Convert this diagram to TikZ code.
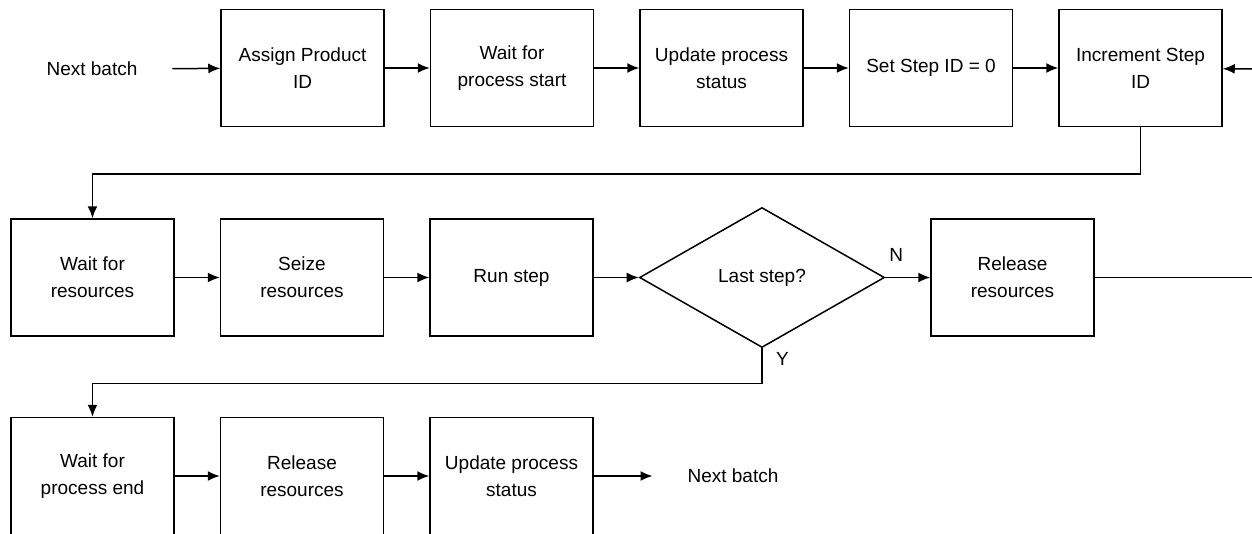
\documentclass[tikz,border=0pt]{standalone}
\usepackage{fontspec}
\setmainfont{Liberation Sans}
\usetikzlibrary{shapes.geometric,arrows.meta}
\tikzset{every node/.style={align=center}, >={Latex[length=12pt,width=10pt]}, font=\fontsize{19}{27}\selectfont}

\begin{document}
\begin{tikzpicture}[x=1pt, y=-1pt, node distance=209.5pt, line width=1.5pt,
    box/.style={rectangle, draw, minimum width=163pt, minimum height=117pt, inner sep=0pt},
    test/.style={diamond, draw, aspect=1.75, minimum width=245pt, minimum height=140pt, inner sep=0pt}]
             \useasboundingbox (0,0) rectangle (1252,533);

             % batch set-up
             \node (nextin) at (92,69) {Next batch};
             \node [box] (assign) at (302.5,68) {Assign Product\\ID};
             \node [box] (waitstart) [right of=assign] {Wait for\\process start};
             \node [box] (update) [right of=waitstart] {Update process\\status};
             \node [box] (setid) [right of=update] {Set Step ID = 0};
             \node [box] (incr) [right of=setid] {Increment Step\\ID};

             % step loop
             \node [box] (waitres) at (92.5,277.5) {Wait for\\resources};
             \node [box] (seize) [right of=waitres] {Seize\\resources};
             \node [box] (run) [right of=seize] {Run step};
             \node [test] (last) [right of=run,xshift=41pt] {Last step?};
             \node [box] (relstep) [right of=last,xshift=41pt] {Release\\resources};
             \coordinate (loopout) at (1252,277.5);
             \coordinate (loopin) at (1252,69);

             % batch end
             \node [box] (waitend) at (92.5,476) {Wait for\\process end};
             \node [box] (relend) [right of=waitend] {Release\\resources};
             \node [box] (update2) [right of=relend] {Update process\\status};
             \node (nextout) [right of=update2,xshift=12pt] {Next batch};

             \path[->] (nextin) edge [shorten <=31pt] (assign)
                (assign) edge (waitstart)
                (waitstart) edge (update)
                (update) edge (setid)
                (setid) edge (incr)
                (loopin) edge (incr)
                (waitres) edge (seize)
                (seize) edge (run)
                (run) edge (last)
                (last) edge node [pos=0,anchor=south west,yshift=12pt] {N} (relstep)
                (waitend) edge (relend)
                (relend) edge (update2)
                (update2) edge [shorten >=31pt] (nextout);
             \draw (relstep) -- (loopout);
             \draw[->] (incr.south) -- ++(0,46.5) -| (waitres.north);
             \draw[->] (last.south) -- node [pos=0,anchor=north west,xshift=10pt] {Y} ++(0,35) -| (waitend.north);
         \end{tikzpicture}
\end{document}
